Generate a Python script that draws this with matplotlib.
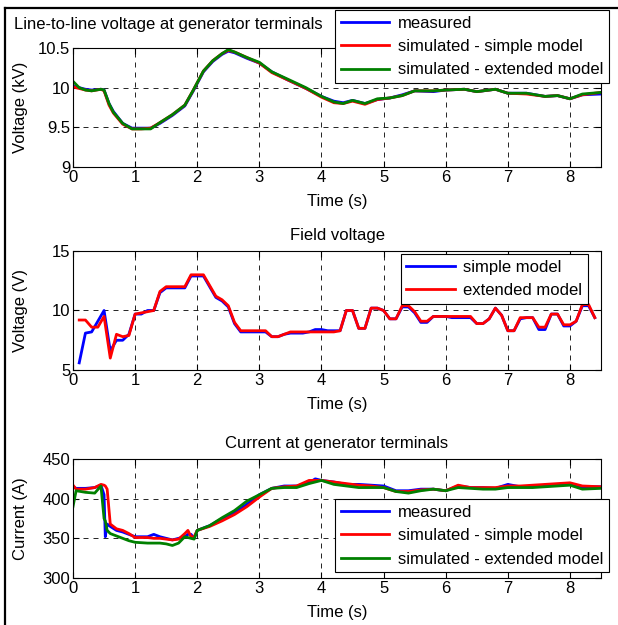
import numpy as np
import matplotlib
matplotlib.use("Agg")
import matplotlib.pyplot as plt
from matplotlib.lines import Line2D

plt.rcParams['font.family'] = ['Liberation Sans', 'DejaVu Sans']
plt.rcParams['font.size'] = 12

# ---- line-to-line voltage (kV) ----
t_v = [0.0, 0.1, 0.2, 0.3, 0.45, 0.5, 0.58, 0.65, 0.8, 0.95, 1.1, 1.25, 1.4, 1.6, 1.8, 1.93,
       2.1, 2.25, 2.4, 2.5, 2.6, 2.8, 3.0, 3.2, 3.45, 3.75, 4.0, 4.2, 4.35, 4.5, 4.7, 4.9,
       5.1, 5.3, 5.5, 5.8, 6.0, 6.3, 6.5, 6.8, 7.0, 7.3, 7.6, 7.8, 8.0, 8.2, 8.5]
v_meas = [10.02, 10.0, 9.98, 9.97, 9.98, 9.97, 9.8, 9.7, 9.55, 9.49, 9.49, 9.49, 9.55, 9.65, 9.77, 9.95,
          10.2, 10.33, 10.42, 10.46, 10.44, 10.37, 10.31, 10.2, 10.1, 9.99, 9.89, 9.83, 9.81, 9.84, 9.8, 9.85,
          9.87, 9.91, 9.96, 9.95, 9.97, 9.98, 9.95, 9.98, 9.93, 9.93, 9.89, 9.9, 9.86, 9.91, 9.92]
v_simple = [10.01, 9.99, 9.97, 9.96, 9.98, 9.96, 9.78, 9.68, 9.54, 9.48, 9.48, 9.49, 9.56, 9.66, 9.78, 9.96,
            10.21, 10.34, 10.43, 10.47, 10.45, 10.38, 10.31, 10.19, 10.1, 9.99, 9.88, 9.81, 9.8, 9.83, 9.79, 9.85,
            9.87, 9.9, 9.96, 9.96, 9.97, 9.98, 9.95, 9.98, 9.93, 9.92, 9.89, 9.9, 9.86, 9.91, 9.94]
v_ext = [10.08, 10.0, 9.97, 9.96, 9.98, 9.97, 9.8, 9.69, 9.55, 9.48, 9.48, 9.48, 9.56, 9.66, 9.78, 9.96,
         10.21, 10.34, 10.43, 10.48, 10.45, 10.38, 10.32, 10.2, 10.11, 10.0, 9.89, 9.82, 9.8, 9.84, 9.8, 9.86,
         9.87, 9.9, 9.96, 9.96, 9.97, 9.98, 9.95, 9.98, 9.93, 9.93, 9.89, 9.9, 9.86, 9.92, 9.94]

# ---- field voltage (V) ----
t_f = [0.1, 0.2, 0.3, 0.4, 0.5, 0.6, 0.7, 0.8, 0.9, 1.0, 1.1, 1.2, 1.3, 1.4, 1.5, 1.6, 1.7, 1.8,
       1.9, 2.0, 2.1, 2.2, 2.3, 2.4, 2.5, 2.6, 2.7, 2.8, 2.9, 3.0, 3.1, 3.2, 3.3, 3.4, 3.5, 3.6,
       3.7, 3.8, 3.9, 4.0, 4.1, 4.2, 4.3, 4.4, 4.5, 4.6, 4.7, 4.8, 4.9, 5.0, 5.1, 5.2, 5.3, 5.4,
       5.5, 5.6, 5.7, 5.8, 5.9, 6.0, 6.1, 6.2, 6.3, 6.4, 6.5, 6.6, 6.7, 6.8, 6.9, 7.0, 7.1, 7.2,
       7.3, 7.4, 7.5, 7.6, 7.7, 7.8, 7.9, 8.0, 8.1, 8.2, 8.3, 8.4]
f_simple = [5.6, 8.1, 8.2, 9.1, 10.0, 6.6, 7.5, 7.5, 8.0, 9.7, 9.7, 10.0, 10.0, 11.5, 11.9, 11.9, 11.9, 11.9,
            12.9, 12.9, 12.9, 12.0, 11.1, 10.8, 10.3, 8.9, 8.2, 8.2, 8.2, 8.2, 8.2, 7.8, 7.8, 8.0, 8.1, 8.1,
            8.1, 8.2, 8.4, 8.4, 8.3, 8.3, 8.3, 10.0, 10.0, 8.5, 8.5, 10.2, 10.2, 10.0, 9.3, 9.3, 10.3, 10.3,
            9.8, 9.0, 9.0, 9.5, 9.5, 9.5, 9.4, 9.4, 9.4, 9.4, 8.9, 8.9, 9.3, 10.2, 9.6, 8.3, 8.3, 9.3,
            9.4, 9.4, 8.4, 8.4, 9.7, 9.7, 8.7, 8.7, 9.1, 10.4, 10.4, 9.4]
f_ext = [9.2, 9.2, 8.6, 8.6, 9.5, 6.0, 8.0, 7.8, 7.9, 9.7, 9.8, 9.9, 10.0, 11.6, 12.0, 12.0, 12.0, 12.0,
         13.0, 13.0, 13.0, 12.1, 11.2, 10.9, 10.4, 9.0, 8.3, 8.3, 8.3, 8.3, 8.3, 7.8, 7.8, 8.0, 8.2, 8.2,
         8.2, 8.2, 8.2, 8.2, 8.2, 8.2, 8.3, 10.0, 10.0, 8.5, 8.5, 10.2, 10.2, 10.0, 9.3, 9.3, 10.4, 10.4,
         9.9, 9.1, 9.1, 9.5, 9.5, 9.5, 9.5, 9.5, 9.5, 9.5, 8.9, 8.9, 9.3, 10.2, 9.6, 8.3, 8.3, 9.4,
         9.4, 9.4, 8.6, 8.6, 9.7, 9.7, 8.8, 8.8, 9.1, 10.5, 10.5, 9.4]

# ---- current (A) ----
t_i = [0.0, 0.05, 0.2, 0.35, 0.45, 0.5, 0.52, 0.55, 0.6, 0.7, 0.8, 0.9, 1.0, 1.2, 1.3, 1.4, 1.5,
       1.6, 1.7, 1.8, 1.85, 1.9, 1.95, 2.0, 2.2, 2.4, 2.6, 2.8, 3.0, 3.2, 3.4, 3.6, 3.8, 3.9, 4.0,
       4.2, 4.4, 4.6, 4.8, 5.0, 5.2, 5.4, 5.6, 5.8, 6.0, 6.2, 6.4, 6.6, 6.8, 7.0, 7.2, 7.4, 7.6,
       7.8, 8.0, 8.2, 8.5]
i_meas = [415, 413, 413, 414, 417, 405, 352, 368, 365, 360, 358, 355, 352, 352, 355, 352, 350,
          348, 350, 352, 355, 355, 350, 360, 366, 375, 382, 393, 405, 413, 416, 416, 420, 425, 423,
          421, 418, 418, 417, 416, 410, 410, 412, 412, 410, 416, 414, 414, 413, 418, 415, 415, 417,
          418, 418, 415, 415]
i_simple = [417, 412, 412, 414, 418, 417, 416, 412, 368, 362, 360, 356, 351, 351, 350, 350, 349,
            348, 349, 356, 360, 352, 352, 360, 365, 372, 380, 390, 402, 413, 415, 416, 423, 423, 423,
            421, 419, 417, 416, 414, 409, 409, 411, 412, 410, 417, 414, 414, 414, 416, 416, 417, 418,
            419, 420, 416, 415]
i_ext = [390, 410, 408, 407, 416, 375, 372, 360, 356, 353, 350, 347, 345, 344, 344, 344, 343,
         341, 344, 352, 351, 350, 349, 360, 366, 376, 385, 397, 405, 413, 414, 414, 419, 421, 423,
         418, 416, 414, 414, 414, 409, 407, 410, 412, 410, 414, 413, 412, 412, 414, 414, 414, 415,
         416, 417, 412, 413]

blue = (0, 0, 1)
red = (1, 0, 0)
green = (0, 0.5, 0)

fig = plt.figure(figsize=(6.18, 6.25), dpi=100)
W, H = 618.0, 625.0

def make_ax(top_px, bottom_px):
    ax = fig.add_axes([73 / W, 1 - bottom_px / H, (601 - 73) / W, (bottom_px - top_px) / H])
    ax.set_xlim(0, 8.5)
    ax.set_xticks(range(0, 9))
    ax.tick_params(direction='in', top=True, right=True, length=4, width=0.8, labelsize=12, pad=2)
    ax.grid(True, color='k', linestyle=(0, (6, 6)), linewidth=0.6)
    ax.set_xlabel("Time (s)", fontsize=12)
    ax.xaxis.set_label_coords(0.5, -0.225)
    for s in ax.spines.values():
        s.set_linewidth(0.8)
    return ax

def style_legend(leg):
    f = leg.get_frame()
    f.set_edgecolor('k')
    f.set_linewidth(0.8)
    f.set_boxstyle('square', pad=0)

leg_kw = dict(loc='upper right', bbox_transform=fig.transFigure, fancybox=False, framealpha=1,
              handlelength=2.9, labelspacing=0.5, borderpad=0.35, handletextpad=0.5,
              borderaxespad=0, fontsize=12)

# panel 1
ax1 = make_ax(48, 167)
ax1.plot(t_v, v_meas, color=blue, lw=2, label='measured')
ax1.plot(t_v, v_simple, color=red, lw=2, label='simulated - simple model')
ax1.plot(t_v, v_ext, color=green, lw=2, label='simulated - extended model')
ax1.set_ylim(9, 10.5)
ax1.set_yticks([9, 9.5, 10, 10.5])
ax1.set_yticklabels(['9', '9.5', '10', '10.5'])
ax1.set_ylabel("Voltage (kV)", fontsize=12)
ax1.yaxis.set_label_coords(-0.085, 0.5)
fig.text(14 / W, 1 - 25 / H, "Line-to-line voltage at generator terminals", fontsize=12,
         ha='left', va='center')
leg1 = ax1.legend(bbox_to_anchor=(609 / W, 1 - 10 / H), **leg_kw)
style_legend(leg1)

# panel 2
ax2 = make_ax(251, 370)
ax2.plot(t_f, f_simple, color=blue, lw=2, label='simple model')
ax2.plot(t_f, f_ext, color=red, lw=2, label='extended model')
ax2.set_ylim(5, 15)
ax2.set_yticks([5, 10, 15])
ax2.set_ylabel("Voltage (V)", fontsize=12)
ax2.yaxis.set_label_coords(-0.085, 0.5)
ax2.set_title("Field voltage", fontsize=12, pad=8)
leg2 = ax2.legend(bbox_to_anchor=(588 / W, 1 - 254 / H), **leg_kw)
style_legend(leg2)

# panel 3
ax3 = make_ax(459, 578)
ax3.plot(t_i, i_meas, color=blue, lw=2, label='measured')
ax3.plot(t_i, i_simple, color=red, lw=2, label='simulated - simple model')
ax3.plot(t_i, i_ext, color=green, lw=2, label='simulated - extended model')
ax3.set_ylim(300, 450)
ax3.set_yticks([300, 350, 400, 450])
ax3.set_ylabel("Current (A)", fontsize=12)
ax3.yaxis.set_label_coords(-0.085, 0.5)
ax3.set_title("Current at generator terminals", fontsize=12, pad=8)
leg3 = ax3.legend(bbox_to_anchor=(609 / W, 1 - 499 / H), **leg_kw)
style_legend(leg3)

# outer frame (left and top edges visible)
fig.add_artist(Line2D([5 / W, 5 / W], [0, 1 - 8 / H], color='k', lw=1.6, transform=fig.transFigure))
fig.add_artist(Line2D([5 / W, 1], [1 - 8 / H, 1 - 8 / H], color='k', lw=1.6, transform=fig.transFigure))

fig.savefig("out.png", dpi=100)
